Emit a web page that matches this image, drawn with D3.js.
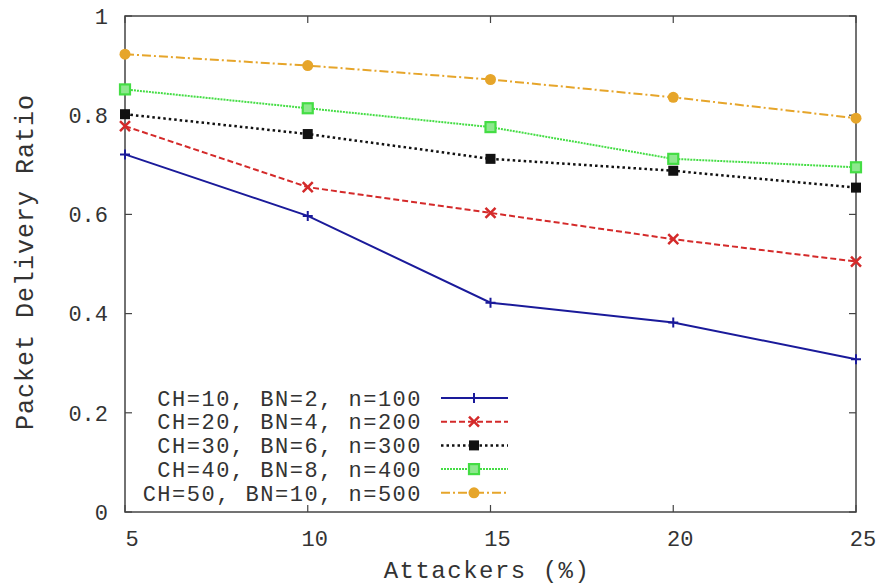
<!DOCTYPE html>
<html>
<head>
<meta charset="utf-8">
<script src="https://cdn.jsdelivr.net/npm/d3@7"></script>
<style>
  body { margin: 0; background: #fff; }
  text { font-family: "Liberation Mono", "DejaVu Sans Mono", monospace; fill: #333; }
</style>
</head>
<body>
<div id="chart"></div>
<script>
const attackers = [5, 10, 15, 20, 25];
const yTicks = [0, 0.2, 0.4, 0.6, 0.8, 1];
const seriesNames = [
  "CH=10, BN=2, n=100",
  "CH=20, BN=4, n=200",
  "CH=30, BN=6, n=300",
  "CH=40, BN=8, n=400",
  "CH=50, BN=10, n=500"
];
const pdr100 = [0.721, 0.597, 0.422, 0.382, 0.308];
const pdr200 = [0.778, 0.655, 0.603, 0.550, 0.505];
const pdr300 = [0.802, 0.762, 0.712, 0.688, 0.654];
const pdr400 = [0.852, 0.814, 0.776, 0.712, 0.695];
const pdr500 = [0.923, 0.900, 0.872, 0.836, 0.794];

const series = [
  { name: seriesNames[0], values: pdr100, color: "#1a1a9a", dash: null, width: 2, marker: "plus" },
  { name: seriesNames[1], values: pdr200, color: "#d42a2a", dash: "6,3", width: 2, marker: "cross" },
  { name: seriesNames[2], values: pdr300, color: "#111", dash: "2.5,3", width: 2.5, marker: "square" },
  { name: seriesNames[3], values: pdr400, color: "#44dd44", dash: "2,1", width: 2, marker: "box" },
  { name: seriesNames[4], values: pdr500, color: "#e6a52a", dash: "9,3,2,3", width: 2, marker: "circle" }
];

const W = 880, H = 587;
const margin = { top: 16, right: 24, bottom: 75, left: 125 };
const width = W - margin.left - margin.right;
const height = H - margin.top - margin.bottom;

const svg = d3.select("#chart").append("svg")
  .attr("width", W).attr("height", H);
const g = svg.append("g").attr("transform", `translate(${margin.left},${margin.top})`);

const x = d3.scaleLinear().domain([5, 25]).range([0, width]);
const y = d3.scaleLinear().domain([0, 1]).range([height, 0]);

// --- frame & ticks (gnuplot style, mirrored, inward) ---
const frameColor = "#444";
const tickLen = 7;
g.append("rect").attr("width", width).attr("height", height)
  .attr("fill", "none").attr("stroke", frameColor).attr("stroke-width", 1.5);

yTicks.forEach(t => {
  g.append("line").attr("x1", 0).attr("x2", tickLen).attr("y1", y(t)).attr("y2", y(t))
    .attr("stroke", frameColor).attr("stroke-width", 1.2);
  g.append("line").attr("x1", width - tickLen).attr("x2", width).attr("y1", y(t)).attr("y2", y(t))
    .attr("stroke", frameColor).attr("stroke-width", 1.2);
  g.append("text").attr("x", -17).attr("y", y(t)).attr("dy", "0.35em")
    .attr("text-anchor", "end").style("font-size", "22px")
    .text(d3.format("~g")(t));
});

attackers.forEach(t => {
  g.append("line").attr("x1", x(t)).attr("x2", x(t)).attr("y1", height).attr("y2", height - tickLen)
    .attr("stroke", frameColor).attr("stroke-width", 1.2);
  g.append("line").attr("x1", x(t)).attr("x2", x(t)).attr("y1", 0).attr("y2", tickLen)
    .attr("stroke", frameColor).attr("stroke-width", 1.2);
  g.append("text").attr("x", x(t) + 7).attr("y", height + 34)
    .attr("text-anchor", "middle").style("font-size", "22px")
    .text(t);
});

// axis titles
svg.append("text").attr("x", 487).attr("y", 578)
  .attr("text-anchor", "middle").style("font-size", "24px").style("letter-spacing", "1.5px")
  .text("Attackers (%)");
svg.append("text").attr("transform", `translate(33,262) rotate(-90)`)
  .attr("text-anchor", "middle").style("font-size", "25px").style("letter-spacing", "1px")
  .text("Packet Delivery Ratio");

// --- markers ---
function drawMarker(sel, s, cx, cy) {
  if (s.marker === "plus") {
    sel.append("path").attr("d", `M${cx - 5},${cy}H${cx + 5}M${cx},${cy - 5}V${cy + 5}`)
      .attr("stroke", s.color).attr("stroke-width", 2);
  } else if (s.marker === "cross") {
    sel.append("path").attr("d", `M${cx - 5},${cy - 5}L${cx + 5},${cy + 5}M${cx - 5},${cy + 5}L${cx + 5},${cy - 5}`)
      .attr("stroke", s.color).attr("stroke-width", 2.5);
  } else if (s.marker === "square") {
    sel.append("rect").attr("x", cx - 5).attr("y", cy - 5).attr("width", 10).attr("height", 10)
      .attr("fill", s.color);
  } else if (s.marker === "box") {
    sel.append("rect").attr("x", cx - 5).attr("y", cy - 5).attr("width", 10).attr("height", 10)
      .attr("fill", "#8ee88e").attr("stroke", s.color).attr("stroke-width", 2.2);
  } else if (s.marker === "circle") {
    sel.append("circle").attr("cx", cx).attr("cy", cy).attr("r", 5.5).attr("fill", s.color);
  }
}

const line = d3.line().x((d, i) => x(attackers[i])).y(d => y(d));

series.forEach(s => {
  const grp = g.append("g");
  grp.append("path").datum(s.values)
    .attr("d", line)
    .attr("fill", "none")
    .attr("stroke", s.color)
    .attr("stroke-width", s.width)
    .attr("stroke-dasharray", s.dash);
  s.values.forEach((v, i) => drawMarker(grp, s, x(attackers[i]), y(v)));
});

// --- legend ---
const legendX = 422, legendY0 = 398, legendStep = 23.7;
series.forEach((s, i) => {
  const ly = legendY0 + i * legendStep;
  svg.append("text").attr("x", legendX).attr("y", ly).attr("dy", "0.35em")
    .attr("text-anchor", "end").style("font-size", "22px").style("letter-spacing", "1.5px")
    .text(s.name);
  svg.append("line").attr("x1", 441).attr("x2", 508).attr("y1", ly).attr("y2", ly)
    .attr("stroke", s.color).attr("stroke-width", s.width).attr("stroke-dasharray", s.dash);
  drawMarker(svg, s, 474, ly);
});
</script>
</body>
</html>
